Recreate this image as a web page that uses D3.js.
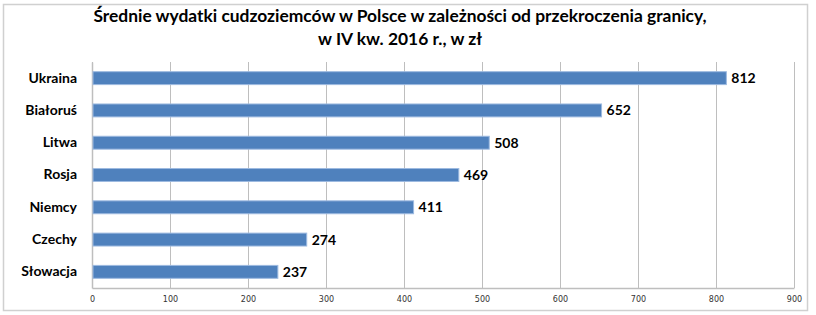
<!DOCTYPE html>
<html>
<head>
<meta charset="utf-8">
<script src="https://cdn.jsdelivr.net/npm/d3@7"></script>
<style>
  body { margin: 0; background: #fff; }
  text { font-family: Lato, "DejaVu Sans", sans-serif; }
</style>
</head>
<body>
<div id="my_dataviz"></div>
<script>
  // chart data
  var countries = ["Ukraina", "Białoruś", "Litwa", "Rosja", "Niemcy", "Czechy", "Słowacja"];
  var values = [812, 652, 508, 469, 411, 274, 237];
  var xTicks = [0, 100, 200, 300, 400, 500, 600, 700, 800, 900];
  var titleLines = ["Średnie wydatki cudzoziemców w Polsce w zależności od przekroczenia granicy,",
                    "w IV kw. 2016 r., w zł"];

  var data = countries.map(function(c, i) { return {group: c, value: values[i]}; });

  var W = 816, H = 315;
  var margin = {top: 62, right: 22, bottom: 27, left: 92},
      width = 794 - margin.left,
      height = 288 - margin.top;

  var root = d3.select("#my_dataviz")
    .append("svg")
      .attr("width", W)
      .attr("height", H);

  // outer frame
  root.append("rect")
    .attr("x", 3.5).attr("y", 4.5)
    .attr("width", 804).attr("height", 306)
    .attr("fill", "none")
    .attr("stroke", "#d0d0d0")
    .attr("stroke-width", 1.5);

  // title
  root.append("g").selectAll("text")
    .data(titleLines)
    .enter().append("text")
      .attr("x", 400)
      .attr("y", function(d, i) { return 22 + i * 23; })
      .attr("text-anchor", "middle")
      .attr("font-size", "17.4px")
      .attr("font-weight", "bold")
      .attr("fill", "#000")
      .text(function(d) { return d; });

  var svg = root.append("g")
    .attr("transform", "translate(" + margin.left + "," + margin.top + ")");

  var x = d3.scaleLinear()
    .domain([0, 900])
    .range([0, width]);

  var y = d3.scaleBand()
    .domain(countries)
    .range([0, height])
    .paddingInner(0.6)
    .paddingOuter(0.3);

  // gridlines
  svg.append("g")
    .selectAll("line")
    .data(xTicks)
    .enter().append("line")
      .attr("x1", function(d) { return Math.round(x(d)) + 0.5; })
      .attr("x2", function(d) { return Math.round(x(d)) + 0.5; })
      .attr("y1", 0)
      .attr("y2", height)
      .attr("stroke", "#bebebe");

  // x axis
  var xAxis = svg.append("g")
    .attr("transform", "translate(0," + height + ")")
    .call(d3.axisBottom(x).tickValues(xTicks).tickSize(0).tickPadding(8));
  xAxis.select(".domain").attr("stroke", "#bebebe").attr("stroke-width", 1.5);
  xAxis.selectAll("text")
    .attr("font-size", "8px")
    .attr("fill", "#333")
    .style("font-family", "'DejaVu Sans', sans-serif");

  // y axis labels
  var yAxis = svg.append("g")
    .call(d3.axisLeft(y).tickSize(0).tickPadding(15));
  yAxis.select(".domain").attr("stroke", "#bebebe").attr("stroke-width", 1.5);
  yAxis.selectAll("text")
    .attr("font-size", "14px")
    .attr("font-weight", "bold")
    .attr("fill", "#000");

  // bars
  svg.selectAll("rect.bar")
    .data(data)
    .enter().append("rect")
      .attr("class", "bar")
      .attr("x", x(0) + 1)
      .attr("y", function(d) { return y(d.group); })
      .attr("width", function(d) { return x(d.value) - x(0); })
      .attr("height", y.bandwidth())
      .attr("fill", "#4f81bd")
      .attr("stroke", "#9dbae0")
      .attr("stroke-width", 1);

  // value labels
  svg.selectAll("text.val")
    .data(data)
    .enter().append("text")
      .attr("class", "val")
      .attr("x", function(d) { return x(d.value) + 6; })
      .attr("y", function(d) { return y(d.group) + y.bandwidth() / 2; })
      .attr("dy", "0.36em")
      .attr("font-size", "14px")
      .attr("font-weight", "bold")
      .attr("fill", "#000")
      .text(function(d) { return d.value; });
</script>
</body>
</html>
